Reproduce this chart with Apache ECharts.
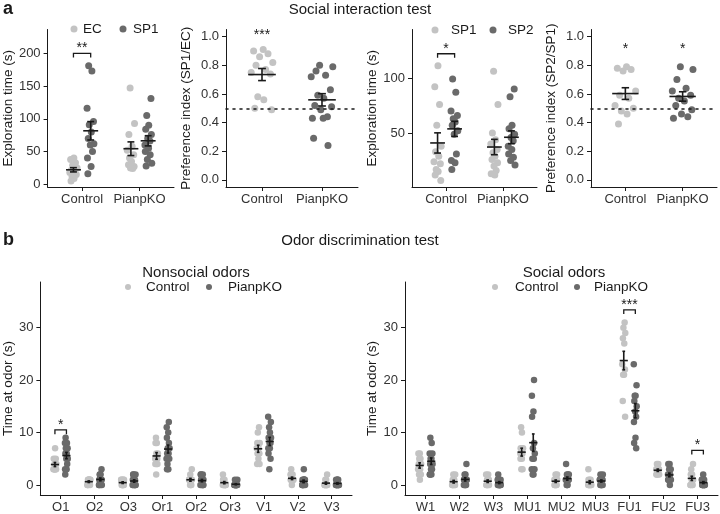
<!DOCTYPE html>
<html><head><meta charset="utf-8">
<script src="https://cdn.jsdelivr.net/npm/echarts@6/dist/echarts.min.js"></script>
<style>html,body{margin:0;padding:0;background:#fff}#c{width:720px;height:514px}</style>
</head><body><div id="c"></div>
<script>
// ================= DATA =================
const socialCats = ['Control', 'PianpKO'];
// a1: Exploration time (s), EC vs SP1 — [Control, PianpKO]
const a1_EC  = [[40,38,33,29,25,22,20,18,15,12,9,5], [147,93,76,58,52,45,40,35,30,27,25,24]];
const a1_SP1 = [[181,173,116,96,91,80,70,62,60,50,40,27,16], [131,105,90,84,76,70,66,60,55,50,45,38,32,28]];
const a1Ticks = [0,50,100,150,200];
const a1Sig = [{cat:1, level:200, label:'**'}];
// a2: Preference index (SP1/EC)
const a2_PI = [[0.91,0.90,0.88,0.86,0.82,0.80,0.77,0.75,0.74,0.58,0.56,0.50,0.49],
               [0.80,0.79,0.76,0.73,0.72,0.63,0.59,0.57,0.52,0.51,0.49,0.44,0.43,0.43,0.29,0.24]];
const piTicks = [0,0.2,0.4,0.6,0.8,1.0];
const a2Sig = [{cat:1, level:0.975, label:'***'}];
// a3: Exploration time (s), SP1 vs SP2
const a3_SP1 = [[111,92,76,57,38,33,29,24,22,17,15,12,7], [106,76,50,44,40,35,32,29,26,23,20,16,13,12]];
const a3_SP2 = [[99,87,70,66,63,60,57,52,49,31,25,23,17], [90,83,57,54,49,46,43,38,35,31,28,25,21]];
const a3Ticks = [50,100];
const a3Sig = [{cat:1, level:122, label:'*'}];
// a4: Preference index (SP2/SP1)
const a4_PI = [[0.79,0.78,0.77,0.76,0.62,0.59,0.57,0.52,0.50,0.48,0.46,0.39],
               [0.79,0.77,0.70,0.64,0.62,0.59,0.57,0.55,0.52,0.49,0.46,0.44,0.43]];
const a4Sig = [{cat:1, level:0.88, label:'*'}, {cat:2, level:0.88, label:'*'}];
const chanceLevel = 0.5;

// b: Time at odor (s)
const odorTicks = [0,10,20,30];
const nonsocialOdors = ['O1','O2','O3','Or1','Or2','Or3','V1','V2','V3'];
const nonsocialControl = [
  [7,5,5,4,4,3,3,3,3,3,3],
  [1,1,1,1,0,0,0,1,0,1,1],
  [1,1,0,0,1,0,1,0,0,1,0],
  [9,8,8,6,6,5,5,4,4,4,2],
  [3,2,1,1,1,1,0,0,1,1,0],
  [2,1,1,0,0,0,1,0,0,0,0],
  [11,10,8,8,7,7,6,6,5,4,4],
  [3,2,2,1,1,1,1,1,0,1,1],
  [2,1,1,0,0,0,0,0,0,0,0]];
const nonsocialPianp = [
  [9,8,8,7,7,6,6,5,5,4,3,3,2],
  [3,2,2,1,1,1,1,0,0,0,1,2,0],
  [2,2,1,1,1,0,0,0,1,0,2,0,0],
  [12,11,10,9,8,7,7,6,6,5,5,4,3,3],
  [2,2,1,1,1,0,0,0,1,1,2,0,0],
  [1,1,0,0,0,0,0,0,0,0,0,0,0],
  [13,12,11,10,9,9,8,8,7,7,6,5,3],
  [3,1,1,1,1,0,0,0,1,0,0,0,1],
  [1,1,1,1,0,0,0,0,0,0,0,0,0]];
const nonsocialSig = [{cat:1, level:10.5, label:'*'}];
const socialOdors = ['W1','W2','W3','MU1','MU2','MU3','FU1','FU2','FU3'];
const socialControl = [
  [6,6,5,5,4,4,3,3,2,2,1],
  [2,2,1,1,0,0,0,1,0,0,0],
  [2,2,1,1,1,0,0,0,1,0,0],
  [11,10,7,7,6,6,6,5,5,3,3],
  [2,2,1,1,1,0,0,0,1,0,0],
  [3,1,1,1,0,0,0,0,0,0,0],
  [31,30,29,28,27,23,22,21,21,16,13],
  [4,4,3,3,3,3,2,2,2,3,2],
  [4,3,2,2,1,1,1,0,0,0,0]];
const socialPianp = [
  [9,8,6,6,5,5,4,4,3,3,2,2,2],
  [4,2,2,1,1,1,1,0,0,1,0,0,1],
  [2,1,1,0,0,0,1,0,0,0,0,0,1],
  [20,17,14,13,8,7,6,5,5,3,3,2,2],
  [4,2,2,2,1,1,1,1,0,0,1,1,0],
  [2,2,1,1,1,1,0,0,0,0,1,1,0],
  [23,19,17,17,16,15,14,13,12,9,8,7],
  [4,4,3,3,2,2,2,1,1,1,1,1,0],
  [2,1,1,1,0,0,0,0,0,0,1,0,0]];
const socialSig = [{cat:7, level:33.4, label:'***'}, {cat:9, level:6.6, label:'*'}];

// ================= STYLE / HELPERS =================
const FONT = '"Liberation Sans", Arial, Helvetica, sans-serif';
const LIGHT = '#c3c3c3', DARK = '#6a6a6a', INK = '#1a1a1a', TXT = '#333333';
const JIT = [0.1,-0.7,0.5,-0.2,0.9,-0.5,0.3,-0.9,0.7,-0.35,0.15,-0.6,0.8,-0.1,0.45,-0.8];
const mean = a => a.reduce((s,v)=>s+v,0)/a.length;
const sem = a => { const m = mean(a); return Math.sqrt(a.reduce((s,v)=>s+(v-m)*(v-m),0)/(a.length-1))/Math.sqrt(a.length); };

const option = {animation:false, textStyle:{fontFamily:FONT}, grid:[], xAxis:[], yAxis:[], series:[], graphic:[]};

function meanSemRender(hw, cw) {
  return function(params, api) {
    const x = api.value(0), m = api.value(1), s = api.value(2);
    const L = api.coord([x - hw, m]), R = api.coord([x + hw, m]);
    const T = api.coord([x, m + s]), B = api.coord([x, m - s]);
    const cl = api.coord([x - cw, m])[0], cr = api.coord([x + cw, m])[0];
    const st = {stroke: INK, lineWidth: 1.6};
    const ch = [
      {type:'line', shape:{x1:L[0], y1:L[1], x2:R[0], y2:R[1]}, style:st},
      {type:'line', shape:{x1:T[0], y1:T[1], x2:B[0], y2:B[1]}, style:st}];
    if (cw > 0) {
      ch.push({type:'line', shape:{x1:cl, y1:T[1], x2:cr, y2:T[1]}, style:st});
      ch.push({type:'line', shape:{x1:cl, y1:B[1], x2:cr, y2:B[1]}, style:st});
    }
    return {type:'group', children: ch};
  };
}
function sigRender(items, drop, fs) {
  return function(params, api) {
    const it = items[params.dataIndex];
    const x1 = api.value(0), x2 = api.value(1), lv = api.value(2);
    const A = api.coord([x1, lv]), B = api.coord([x2, lv]);
    const ch = [];
    if (x1 !== x2) {
      const dA = api.coord([x1, lv - drop]), dB = api.coord([x2, lv - drop]);
      ch.push({type:'polyline', shape:{points:[dA, A, B, dB]}, style:{stroke:INK, lineWidth:1.3, fill:null}});
    }
    ch.push({type:'text', style:{text: it.label, x:(A[0]+B[0])/2, y:A[1] + 2, align:'center', verticalAlign:'bottom', textAlign:'center', textVerticalAlign:'bottom', fontSize:fs, fontFamily:FONT, fill:INK}});
    return {type:'group', children: ch};
  };
}

function addPanel(p) {
  const gi = option.grid.length;
  option.grid.push(Object.assign({containLabel:false}, p.grid));
  const n = p.cats.length;
  const idx = p.cats.map((_, i) => i + 1);
  option.xAxis.push({type:'value', gridIndex:gi, min:1 - p.expand, max:n + p.expand,
    axisLine:{onZero:false, lineStyle:{color:INK, width:1}},
    axisTick:{customValues:idx, length:4, lineStyle:{color:INK, width:1}},
    axisLabel:{customValues:idx, formatter: v => p.cats[Math.round(v) - 1] || '', color:TXT, fontSize:13, margin:6, fontFamily:FONT},
    splitLine:{show:false}});
  option.yAxis.push({type:'value', gridIndex:gi, min:p.y.min, max:p.y.max,
    name:p.y.name, nameLocation:'middle', nameGap:p.y.nameGap,
    nameTextStyle:{fontSize:13.5, color:INK, fontFamily:FONT},
    axisLine:{show:true, onZero:false, lineStyle:{color:INK, width:1}},
    axisTick:{show:true, customValues:p.y.ticks, length:4, lineStyle:{color:INK, width:1}},
    axisLabel:{customValues:p.y.ticks, formatter:p.y.fmt, color:TXT, fontSize:13, margin:7, fontFamily:FONT},
    splitLine:{show:false}});
  p.groups.forEach((g, k) => {
    const pts = [];
    g.vals.forEach((vals, c) => vals.forEach((v, i) => pts.push([c + 1 + g.dodge + JIT[(i + c*3 + k*5) % JIT.length] * p.jitter, v])));
    const sc = {type:'scatter', xAxisIndex:gi, yAxisIndex:gi, data:pts, symbolSize:p.size, silent:true, z:2,
      itemStyle:{color:g.color, opacity:1}};
    if (p.refLine != null && k === 0) {
      sc.markLine = {silent:true, symbol:'none', label:{show:false}, animation:false,
        lineStyle:{color:INK, type:[2,5], width:1.6, cap:'round'}, data:[{yAxis:p.refLine}]};
    }
    option.series.push(sc);
    const stats = g.vals.map((vals, c) => [c + 1 + g.dodge, mean(vals), sem(vals)]);
    option.series.push({type:'custom', xAxisIndex:gi, yAxisIndex:gi, silent:true, z:5,
      renderItem: meanSemRender(p.meanHW, p.capHW), data:stats, encode:{x:0, y:1}});
  });
  if (p.sig) {
    const d0 = p.groups[0].dodge, d1 = p.groups[p.groups.length - 1].dodge;
    const data = p.sig.items.map(it => [it.cat + d0, it.cat + d1, it.level]);
    option.series.push({type:'custom', xAxisIndex:gi, yAxisIndex:gi, silent:true, z:6, clip:false,
      renderItem: sigRender(p.sig.items, p.sig.drop, p.sig.fs), data, encode:{x:[0,1], y:2}});
  }
}

const fmtInt = v => String(v);
const fmt1 = v => v.toFixed(1);
const A_TOP = 29.5, A_H = 157.5;

addPanel({grid:{left:47, top:A_TOP, width:127, height:A_H}, cats:socialCats, expand:0.6,
  y:{min:-4.1, max:236.3, ticks:a1Ticks, fmt:fmtInt, name:'Exploration time (s)', nameGap:30},
  groups:[{vals:a1_EC, color:LIGHT, dodge:-0.15}, {vals:a1_SP1, color:DARK, dodge:0.15}],
  jitter:0.07, size:7, meanHW:0.13, capHW:0.06, sig:{items:a1Sig, drop:6.5, fs:14}});
addPanel({grid:{left:226, top:A_TOP, width:132, height:A_H}, cats:socialCats, expand:0.6,
  y:{min:-0.05, max:1.05, ticks:piTicks, fmt:fmt1, name:'Preference index (SP1/EC)', nameGap:33},
  groups:[{vals:a2_PI, color:LIGHT, dodge:0}], refLine:chanceLevel,
  jitter:0.2, size:7, meanHW:0.23, capHW:0.065, sig:{items:a2Sig, drop:0, fs:14}});
addPanel({grid:{left:412, top:A_TOP, width:125, height:A_H}, cats:socialCats, expand:0.6,
  y:{min:1, max:144, ticks:a3Ticks, fmt:fmtInt, name:'Exploration time (s)', nameGap:33},
  groups:[{vals:a3_SP1, color:LIGHT, dodge:-0.15}, {vals:a3_SP2, color:DARK, dodge:0.15}],
  jitter:0.07, size:7, meanHW:0.13, capHW:0.06, sig:{items:a3Sig, drop:3.7, fs:14}});
addPanel({grid:{left:591, top:A_TOP, width:126, height:A_H}, cats:socialCats, expand:0.6,
  y:{min:-0.05, max:1.05, ticks:piTicks, fmt:fmt1, name:'Preference index (SP2/SP1)', nameGap:33},
  groups:[{vals:a4_PI, color:LIGHT, dodge:0}], refLine:chanceLevel,
  jitter:0.2, size:7, meanHW:0.23, capHW:0.065, sig:{items:a4Sig, drop:0, fs:14}});
addPanel({grid:{left:37, top:282, width:315, height:216.3}, cats:nonsocialOdors, expand:0.6,
  y:{min:-1.9, max:38.7, ticks:odorTicks, fmt:fmtInt, name:'Time at odor (s)', nameGap:24},
  groups:[{vals:nonsocialControl, color:LIGHT, dodge:-0.17}, {vals:nonsocialPianp, color:DARK, dodge:0.17}],
  jitter:0.05, size:6.5, meanHW:0.12, capHW:0.04, sig:{items:nonsocialSig, drop:0.8, fs:14}});
addPanel({grid:{left:405, top:282, width:313, height:216.3}, cats:socialOdors, expand:0.6,
  y:{min:-1.9, max:38.7, ticks:odorTicks, fmt:fmtInt, name:'Time at odor (s)', nameGap:24},
  groups:[{vals:socialControl, color:LIGHT, dodge:-0.17}, {vals:socialPianp, color:DARK, dodge:0.17}],
  jitter:0.05, size:6.5, meanHW:0.12, capHW:0.04, sig:{items:socialSig, drop:0.8, fs:14}});

// In single-group preference panels the PianpKO points are dark: colour by category
[1, 3].forEach(gi => {
  const s = option.series.find(se => se.type === 'scatter' && se.xAxisIndex === gi);
  s.itemStyle = {color: p => (p.value[0] > 1.5 ? DARK : LIGHT), opacity:1};
});

// ---- titles & legends ----
function txt(x, y, text, size, opt) {
  return {type:'text', x, y, silent:true, style:{text, fontSize:size, fontFamily:FONT, fill:INK,
    textAlign:(opt && opt.align) || 'left', align:(opt && opt.align) || 'left',
    textVerticalAlign:'middle', verticalAlign:'middle', fontWeight:(opt && opt.bold) ? 'bold' : 'normal'}};
}
function dot(x, y, r, color) { return {type:'circle', silent:true, shape:{cx:x, cy:y, r}, style:{fill:color}}; }
option.graphic = [
  txt(3, 9, 'a', 18, {bold:true}),
  txt(360, 10, 'Social interaction test', 15, {align:'center'}),
  txt(3, 240, 'b', 18, {bold:true}),
  txt(360, 241, 'Odor discrimination test', 15, {align:'center'}),
  txt(196, 273, 'Nonsocial odors', 15, {align:'center'}),
  txt(564, 273, 'Social odors', 15, {align:'center'}),
  dot(74, 29, 3.5, LIGHT), txt(83, 29, 'EC', 13.5),
  dot(123, 29, 3.5, DARK), txt(133, 29, 'SP1', 13.5),
  dot(435, 30, 3.5, LIGHT), txt(451, 30, 'SP1', 13.5),
  dot(493, 30, 3.5, DARK), txt(508, 30, 'SP2', 13.5),
  dot(128, 287, 3, LIGHT), txt(146, 287, 'Control', 13.5),
  dot(209, 287, 3, DARK), txt(228, 287, 'PianpKO', 13.5),
  dot(495, 287, 3, LIGHT), txt(515, 287, 'Control', 13.5),
  dot(577, 287, 3, DARK), txt(594, 287, 'PianpKO', 13.5)
];

const chart = echarts.init(document.getElementById('c'), null, {renderer:'canvas'});
chart.setOption(option);
</script>
</body></html>
